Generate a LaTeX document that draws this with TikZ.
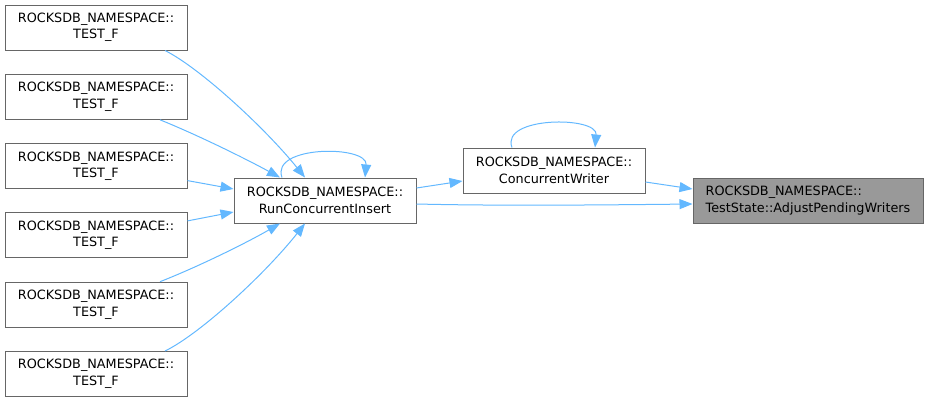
\documentclass[tikz,border=0pt]{standalone}
\usepackage{fontspec}
\setmainfont{DejaVu Sans}
\usetikzlibrary{arrows.meta}
\definecolor{edgeblue}{HTML}{63B8FF}
\definecolor{boxgray}{HTML}{666666}
\definecolor{focusfill}{HTML}{999999}
\begin{document}
\begin{tikzpicture}[x=1pt, y=-1pt, node distance=69.3pt, every node/.style={font=\fontsize{12.8}{16.5}\selectfont}]
    \tikzstyle{func} = [rectangle, draw=boxgray, line width=1pt, fill=white, align=center, minimum width=182pt, minimum height=45pt, inner sep=0pt]
    \tikzstyle{focus} = [func, fill=focusfill, align=left, minimum width=230pt]
    \tikzstyle{call} = [draw=edgeblue, line width=1pt, -{Triangle[length=13pt,width=10pt]}]
    \useasboundingbox (0,0) rectangle (928,402);

    \node (testF1) [func] at (96,27.5) {ROCKSDB\_NAMESPACE::\\TEST\_F};
    \node (testF2) [func, below of=testF1] {ROCKSDB\_NAMESPACE::\\TEST\_F};
    \node (testF3) [func, below of=testF2] {ROCKSDB\_NAMESPACE::\\TEST\_F};
    \node (testF4) [func, below of=testF3] {ROCKSDB\_NAMESPACE::\\TEST\_F};
    \node (testF5) [func, below of=testF4] {ROCKSDB\_NAMESPACE::\\TEST\_F};
    \node (testF6) [func, below of=testF5] {ROCKSDB\_NAMESPACE::\\TEST\_F};
    \node (runInsert) [func] at (325,200.5) {ROCKSDB\_NAMESPACE::\\RunConcurrentInsert};
    \node (concWriter) [func] at (554,170.5) {ROCKSDB\_NAMESPACE::\\ConcurrentWriter};
    % the function the graph is drawn for
    \node (adjustWriters) [focus] at (808,200.5) {ROCKSDB\_NAMESPACE::\\TestState::AdjustPendingWriters};

    \draw [call] ([xshift=69pt]testF1.south) .. controls (200,68) and (265,128) .. ([xshift=-20pt]runInsert.north);
    \draw [call] ([xshift=64pt]testF2.south) .. controls (200,136) and (248,160) .. ([xshift=-45pt]runInsert.north);
    \draw [call] ([yshift=-14.5pt]testF3.east) -- ([yshift=11.5pt]runInsert.west);
    \draw [call] ([yshift=14.5pt]testF4.east) -- ([yshift=-11.5pt]runInsert.west);
    \draw [call] ([xshift=64pt]testF5.north) .. controls (200,266) and (248,242) .. ([xshift=-45pt]runInsert.south);
    \draw [call] ([xshift=69pt]testF6.north) .. controls (200,334) and (265,274) .. ([xshift=-20pt]runInsert.south);
    % recursive calls
    \draw [call] ([xshift=-43pt]runInsert.north) .. controls (270,145) and (368,145) .. ([xshift=40pt]runInsert.north);
    \draw [call] ([xshift=-42pt]concWriter.north) .. controls (500,116) and (598,116) .. ([xshift=41pt]concWriter.north);

    \draw [call] ([yshift=12.5pt]runInsert.east) -- ([yshift=-10.5pt]concWriter.west);
    \draw [call] ([yshift=-3.5pt]runInsert.east) .. controls (500,206) and (600,205) .. ([yshift=-3.5pt]adjustWriters.west);
    \draw [call] ([yshift=-11.5pt]concWriter.east) -- ([yshift=11.5pt]adjustWriters.west);

\end{tikzpicture}
\end{document}
